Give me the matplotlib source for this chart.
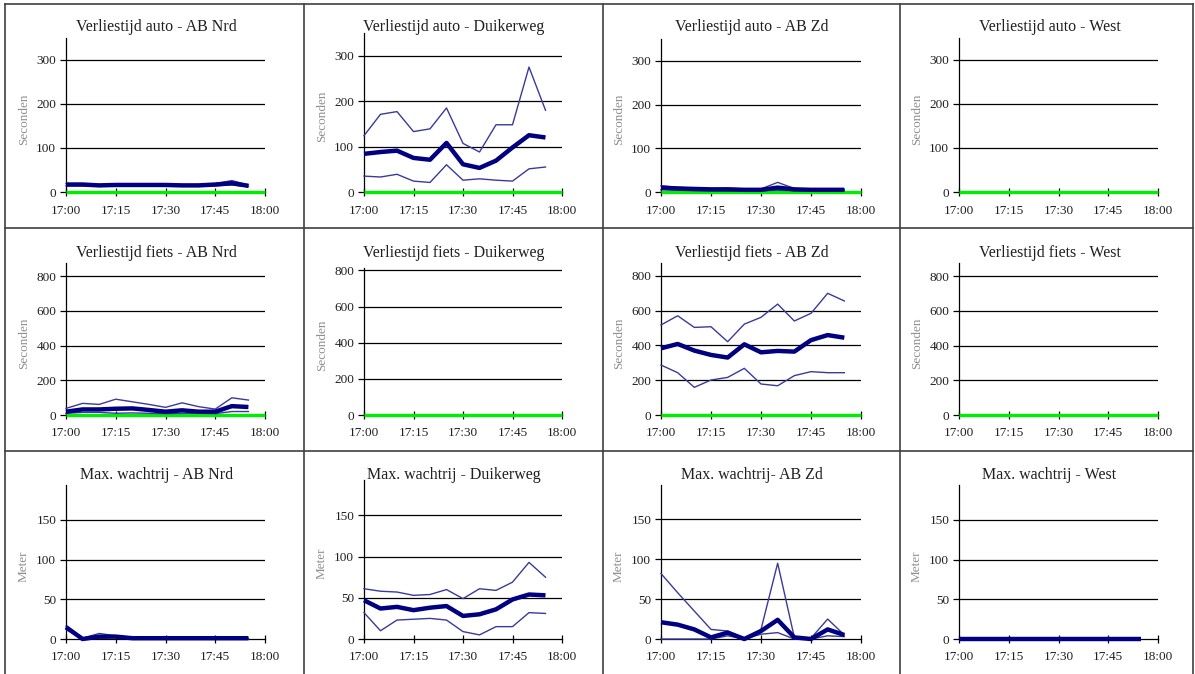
import matplotlib
matplotlib.use("Agg")
import matplotlib.pyplot as plt
from matplotlib.lines import Line2D

# ---------------- data ----------------
tijden = ["17:00", "17:05", "17:10", "17:15", "17:20", "17:25",
          "17:30", "17:35", "17:40", "17:45", "17:50", "17:55"]
nul_tijden = ["17:00", "17:05", "17:10", "17:15", "17:20", "17:25", "17:30",
              "17:35", "17:40", "17:45", "17:50", "17:55", "18:00"]
nul_waarden = [0, 0, 0, 0, 0, 0, 0, 0, 0, 0, 0, 0, 0]
x_ticks = ["17:00", "17:15", "17:30", "17:45", "18:00"]

titels = [
    "Verliestijd auto - AB Nrd", "Verliestijd auto - Duikerweg",
    "Verliestijd auto - AB Zd", "Verliestijd auto - West",
    "Verliestijd fiets - AB Nrd", "Verliestijd fiets - Duikerweg",
    "Verliestijd fiets - AB Zd", "Verliestijd fiets - West",
    "Max. wachtrij - AB Nrd", "Max. wachtrij - Duikerweg",
    "Max. wachtrij- AB Zd", "Max. wachtrij - West",
]
y_labels = ["Seconden", "Seconden", "Meter"]
y_ticks_auto = [0, 100, 200, 300]
y_ticks_fiets = [0, 200, 400, 600, 800]
y_ticks_wacht = [0, 50, 100, 150]

# Verliestijd auto - AB Nrd
auto_nrd_max = [19, 19, 17, 18, 18, 18, 18, 17, 17, 19, 26, 16]
auto_nrd_gem = [17, 17, 15, 16, 16, 16, 16, 15, 15, 17, 20, 14]
auto_nrd_min = [14, 14, 13, 13, 14, 13, 13, 13, 13, 14, 16, 12]
# Verliestijd auto - Duikerweg
auto_dk_max = [124, 171, 177, 133, 139, 185, 107, 88, 148, 148, 275, 180]
auto_dk_gem = [84, 88, 91, 75, 71, 108, 61, 53, 69, 98, 125, 120]
auto_dk_min = [35, 33, 39, 24, 21, 60, 26, 29, 26, 24, 51, 55]
# Verliestijd auto - AB Zd
auto_zd_max = [14, 11, 9, 8, 9, 7, 7, 22, 8, 7, 7, 6]
auto_zd_gem = [10, 8, 7, 6, 6, 5, 5, 10, 6, 5, 5, 5]
auto_zd_min = [5, 4, 3, 3, 3, 3, 3, 4, 3, 3, 3, 3]
# Verliestijd fiets - AB Nrd
fiets_nrd_max = [38, 67, 61, 91, 76, 61, 44, 70, 48, 34, 99, 86]
fiets_nrd_gem = [19, 32, 32, 36, 38, 29, 19, 27, 19, 19, 51, 46]
fiets_nrd_min = [10, 15, 15, 10, 12, 10, 8, 10, 10, 8, 20, 20]
# Verliestijd fiets - AB Zd
fiets_zd_max = [517, 570, 503, 507, 421, 522, 561, 637, 540, 584, 699, 655]
fiets_zd_gem = [383, 408, 370, 345, 330, 406, 360, 368, 364, 430, 459, 444]
fiets_zd_min = [287, 243, 159, 201, 216, 268, 178, 168, 226, 249, 243, 243]
# Max. wachtrij - AB Nrd
wacht_nrd_max = [16, 1, 7, 4, 2, 2, 2, 1, 1, 1, 2, 1]
wacht_nrd_gem = [15, 0, 3, 3, 1, 1, 1, 1, 1, 1, 1, 1]
wacht_nrd_min = [12, 0, 1, 2, 0, 0, 0, 0, 0, 0, 0, 0]
# Max. wachtrij - Duikerweg
wacht_dk_max = [61, 58, 57, 53, 54, 60, 49, 61, 59, 69, 93, 75]
wacht_dk_gem = [47, 37, 39, 35, 38, 40, 28, 30, 36, 48, 54, 53]
wacht_dk_min = [32, 10, 23, 24, 25, 23, 9, 5, 15, 15, 32, 31]
# Max. wachtrij - AB Zd
wacht_zd_max = [82, 58, 35, 12, 10, 1, 12, 95, 2, 1, 25, 5]
wacht_zd_gem = [21, 18, 12, 2, 8, 0, 10, 24, 2, 0, 12, 5]
wacht_zd_min = [0, 0, 0, 0, 4, 0, 6, 8, 0, 0, 4, 3]
# Max. wachtrij - West
wacht_west_gem = [0, 0, 0, 0, 0, 0, 0, 0, 0, 0, 0, 0]


def minuten(t):
    h, m = t.split(":")
    return (int(h) - 17) * 60 + int(m)


x = [minuten(t) for t in tijden]
x_nul = [minuten(t) for t in nul_tijden]
x_tick_pos = [minuten(t) for t in x_ticks]

# series per panel (max, gem, min); None = no data
panel_series = [
    (auto_nrd_max, auto_nrd_gem, auto_nrd_min),
    (auto_dk_max, auto_dk_gem, auto_dk_min),
    (auto_zd_max, auto_zd_gem, auto_zd_min),
    None,
    (fiets_nrd_max, fiets_nrd_gem, fiets_nrd_min),
    None,
    (fiets_zd_max, fiets_zd_gem, fiets_zd_min),
    None,
    (wacht_nrd_max, wacht_nrd_gem, wacht_nrd_min),
    (wacht_dk_max, wacht_dk_gem, wacht_dk_min),
    (wacht_zd_max, wacht_zd_gem, wacht_zd_min),
    (None, wacht_west_gem, None),
]

# ---------------- layout (pixels) ----------------
W, H = 1195, 674
fig = plt.figure(figsize=(W / 100, H / 100), dpi=100)
fig.patch.set_facecolor("white")

col_lr = [(66, 265), (364, 562), (661, 861), (959, 1158)]
geom = [
    [(38, 192, 350), (33, 192, 350), (39, 192, 350), (38, 192, 350)],
    [(263, 415, 875), (268, 415, 813), (263, 415, 873), (263, 415, 875)],
    [(485, 639, 194), (480, 639, 193), (485, 639, 193), (485, 639, 194)],
]
title_y = [27, 253, 475]
row_ticks = [y_ticks_auto, y_ticks_fiets, y_ticks_wacht]

SERIF = ["Liberation Serif", "DejaVu Serif"]
thin_c = "#3a3a9a"
thick_c = "#000080"
green_c = "#00ee00"

for r in range(3):
    for c in range(4):
        idx = r * 4 + c
        l, rr = col_lr[c]
        top, zero, ymax = geom[r][c]
        ax = fig.add_axes([l / W, 1 - zero / H, (rr - l) / W, (zero - top) / H])
        ax.set_xlim(0, 60)
        ax.set_ylim(0, ymax)
        ax.patch.set_alpha(0)
        for s in ("top", "right"):
            ax.spines[s].set_visible(False)
        ax.spines["left"].set_color("black")
        ax.spines["bottom"].set_color("black")
        ax.spines["left"].set_linewidth(0.9)
        ax.spines["bottom"].set_linewidth(0.9)
        ax.set_xticks(x_tick_pos)
        ax.set_xticklabels(x_ticks, fontfamily=SERIF, fontsize=9.5, color="#202020")
        ax.set_yticks(row_ticks[r])
        ax.set_yticklabels([str(v) for v in row_ticks[r]], fontfamily=SERIF, fontsize=9.5,
                           color="#202020")
        ax.tick_params(axis="x", direction="inout", length=6, width=0.9, pad=6, colors="black",
                       labelcolor="#202020")
        ax.tick_params(axis="y", direction="out", length=4, width=0.9, pad=3, colors="black",
                       labelcolor="#202020")
        for v in row_ticks[r][1:]:
            ax.axhline(v, color="black", lw=0.9, zorder=1)

        series = panel_series[idx]
        if r < 2:
            ax.plot(x_nul, nul_waarden, color=green_c, lw=2.4, zorder=3, clip_on=False,
                    solid_capstyle="butt")
        if series is not None:
            smax, sgem, smin = series
            if smin is not None:
                ax.plot(x, smin, color=thin_c, lw=1.0, zorder=4, clip_on=False)
            if smax is not None:
                ax.plot(x, smax, color=thin_c, lw=1.0, zorder=4, clip_on=False)
            ax.plot(x, sgem, color=thick_c, lw=3.2, zorder=5, clip_on=False,
                    solid_capstyle="butt")

        cx = (l + rr) / 2 - 9
        fig.text(cx / W, 1 - title_y[r] / H, titels[idx], ha="center", va="center",
                 fontfamily=SERIF, fontsize=11.5, color="#202020")
        fig.text((l - 42) / W, 1 - ((top + zero) / 2 + 4) / H, y_labels[r], rotation=90,
                 ha="center", va="center", fontfamily=SERIF, fontsize=9.5, color="#909090")

# panel borders
border_c = "#404040"
for xv in (5, 304, 603, 900, 1193):
    fig.add_artist(Line2D([xv / W, xv / W], [1 - 4 / H, 0], color=border_c, lw=1.2))
for yv in (4, 228, 451):
    fig.add_artist(Line2D([5 / W, 1193 / W], [1 - yv / H, 1 - yv / H], color=border_c, lw=1.2))

fig.savefig("out.png", dpi=100, facecolor="white")
